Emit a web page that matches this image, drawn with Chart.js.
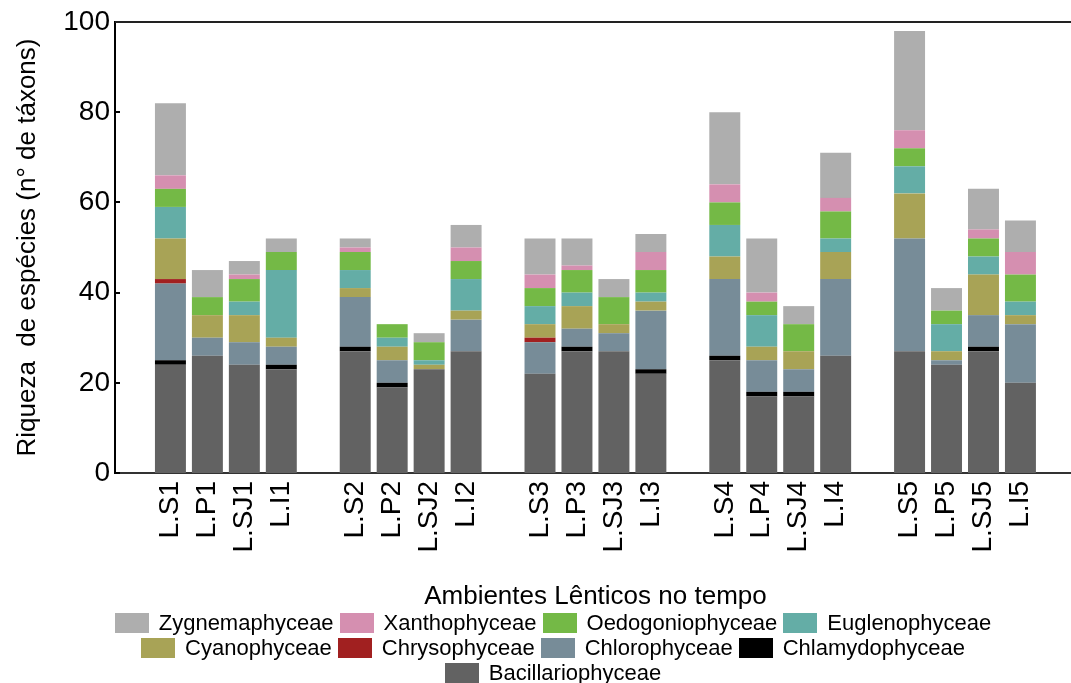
<!DOCTYPE html>
<html>
<head>
<meta charset="utf-8">
<script src="https://cdn.jsdelivr.net/npm/chart.js@4/dist/chart.umd.min.js"></script>
<style>
  html, body { margin: 0; padding: 0; background: #fff; overflow: hidden; }
  body { width: 1071px; height: 683px; position: relative; font-family: "Liberation Sans", Arial, sans-serif; }
  #wrap { position: absolute; left: 0; top: 0; width: 1099px; height: 613px; }
  #legend { position: absolute; left: 35px; top: 610px; width: 1036px; }
  .row { display: flex; justify-content: center; height: 25px; align-items: center; }
  .item { display: flex; align-items: center; margin: 0 3px; font-size: 22px; color: #000; }
  .box { width: 34px; height: 20px; margin-right: 10px; }
</style>
</head>
<body>
<div id="wrap"><canvas id="myChart" width="1099" height="613"></canvas></div>
<div id="legend"></div>
<script>
(function() {
  'use strict';

  // bars in plot order, gaps between the groups are added below
  var bars = ['L.S1', 'L.P1', 'L.SJ1', 'L.I1',
              'L.S2', 'L.P2', 'L.SJ2', 'L.I2',
              'L.S3', 'L.P3', 'L.SJ3', 'L.I3',
              'L.S4', 'L.P4', 'L.SJ4', 'L.I4',
              'L.S5', 'L.P5', 'L.SJ5', 'L.I5'];

  var bacillariophyceae = [24, 26, 24, 23, 27, 19, 23, 27, 22, 27, 27, 22, 25, 17, 17, 26, 27, 24, 27, 20];
  var chlamydophyceae   = [1, 0, 0, 1, 1, 1, 0, 0, 0, 1, 0, 1, 1, 1, 1, 0, 0, 0, 1, 0];
  var chlorophyceae     = [17, 4, 5, 4, 11, 5, 0, 7, 7, 4, 4, 13, 17, 7, 5, 17, 25, 1, 7, 13];
  var chrysophyceae     = [1, 0, 0, 0, 0, 0, 0, 0, 1, 0, 0, 0, 0, 0, 0, 0, 0, 0, 0, 0];
  var cyanophyceae      = [9, 5, 6, 2, 2, 3, 1, 2, 3, 5, 2, 2, 5, 3, 4, 6, 10, 2, 9, 2];
  var euglenophyceae    = [7, 0, 3, 15, 4, 2, 1, 7, 4, 3, 0, 2, 7, 7, 0, 3, 6, 6, 4, 3];
  var oedogoniophyceae  = [4, 4, 5, 4, 4, 3, 4, 4, 4, 5, 6, 5, 5, 3, 6, 6, 4, 3, 4, 6];
  var xanthophyceae     = [3, 0, 1, 0, 1, 0, 0, 3, 3, 1, 0, 4, 4, 2, 0, 3, 4, 0, 2, 5];
  var zygnemaphyceae    = [16, 6, 3, 3, 2, 0, 2, 5, 8, 6, 4, 4, 16, 12, 4, 10, 22, 5, 9, 7];

  var yTicks = [0, 20, 40, 60, 80, 100];

  var FONT = '"Liberation Sans", Arial, sans-serif';

  // one empty slot before, between groups of 4, and after
  function withGaps(arr, blank) {
    var out = [blank];
    for (var i = 0; i < arr.length; i++) {
      if (i > 0 && i % 4 === 0) out.push(blank);
      out.push(arr[i]);
    }
    out.push(blank);
    return out;
  }

  var series = [
    { label: 'Bacillariophyceae', data: bacillariophyceae, color: '#626262' },
    { label: 'Chlamydophyceae', data: chlamydophyceae, color: '#000000' },
    { label: 'Chlorophyceae', data: chlorophyceae, color: '#778c98' },
    { label: 'Chrysophyceae', data: chrysophyceae, color: '#a12020' },
    { label: 'Cyanophyceae', data: cyanophyceae, color: '#a8a356' },
    { label: 'Euglenophyceae', data: euglenophyceae, color: '#64ada6' },
    { label: 'Oedogoniophyceae', data: oedogoniophyceae, color: '#74b946' },
    { label: 'Xanthophyceae', data: xanthophyceae, color: '#d58fb0' },
    { label: 'Zygnemaphyceae', data: zygnemaphyceae, color: '#aeaeae' }
  ];

  var datasets = series.map(function(s) {
    return {
      label: s.label,
      data: withGaps(s.data, null),
      backgroundColor: s.color,
      borderWidth: 0,
      barPercentage: 0.838,
      categoryPercentage: 1.0
    };
  });

  // small inward ticks on y axis + top frame line
  var framePlugin = {
    id: 'frame',
    afterDraw: function(chart) {
      var ctx = chart.ctx;
      var area = chart.chartArea;
      var y = chart.scales.y;
      ctx.save();
      ctx.strokeStyle = '#000';
      ctx.lineWidth = 2;
      yTicks.forEach(function(v) {
        var py = Math.round(y.getPixelForValue(v));
        ctx.beginPath();
        ctx.moveTo(area.left, py);
        ctx.lineTo(area.left + 5, py);
        ctx.stroke();
      });
      ctx.strokeStyle = '#222';
      ctx.beginPath();
      ctx.moveTo(area.left, area.top);
      ctx.lineTo(chart.width, area.top);
      ctx.stroke();
      ctx.restore();
    }
  };

  var ctx = document.getElementById('myChart');

  new Chart(ctx, {
    type: 'bar',
    data: { labels: withGaps(bars, ''), datasets: datasets },
    options: {
      responsive: false,
      animation: false,
      layout: { padding: { left: 0, right: 0, top: 22, bottom: 0 } },
      plugins: {
        legend: { display: false },
        tooltip: { enabled: false }
      },
      scales: {
        x: {
          stacked: true,
          grid: { display: false, drawTicks: false },
          border: { color: '#333', width: 2 },
          ticks: {
            autoSkip: false,
            minRotation: 90,
            maxRotation: 90,
            padding: 8,
            color: '#000',
            font: { family: FONT, size: 28 }
          },
          title: {
            display: true,
            text: 'Ambientes Lênticos no tempo',
            color: '#000',
            font: { family: FONT, size: 26 },
            padding: { top: 0, bottom: 1 }
          },
          afterFit: function(scale) { scale.height = 140; }
        },
        y: {
          stacked: true,
          min: 0,
          max: 100,
          grid: { display: false, drawTicks: false },
          border: { color: '#000', width: 2 },
          ticks: {
            stepSize: 20,
            padding: 5,
            color: '#000',
            font: { family: FONT, size: 28 }
          },
          title: {
            display: true,
            text: 'Riqueza  de espécies (n° de táxons)',
            color: '#000',
            font: { family: FONT, size: 26 },
            padding: { top: 12, bottom: 0 }
          },
          afterFit: function(scale) { scale.width = 115; }
        }
      }
    },
    plugins: [framePlugin]
  });

  // legend rows as in the figure: 4, 4, 1
  var legendItems = series.slice().reverse();
  var rows = [legendItems.slice(0, 4), legendItems.slice(4, 8), legendItems.slice(8)];
  var legend = document.getElementById('legend');
  rows.forEach(function(r) {
    var row = document.createElement('div');
    row.className = 'row';
    r.forEach(function(s) {
      var item = document.createElement('div');
      item.className = 'item';
      var box = document.createElement('span');
      box.className = 'box';
      box.style.background = s.color;
      var txt = document.createElement('span');
      txt.textContent = s.label;
      item.appendChild(box);
      item.appendChild(txt);
      row.appendChild(item);
    });
    legend.appendChild(row);
  });
})();
</script>
</body>
</html>
